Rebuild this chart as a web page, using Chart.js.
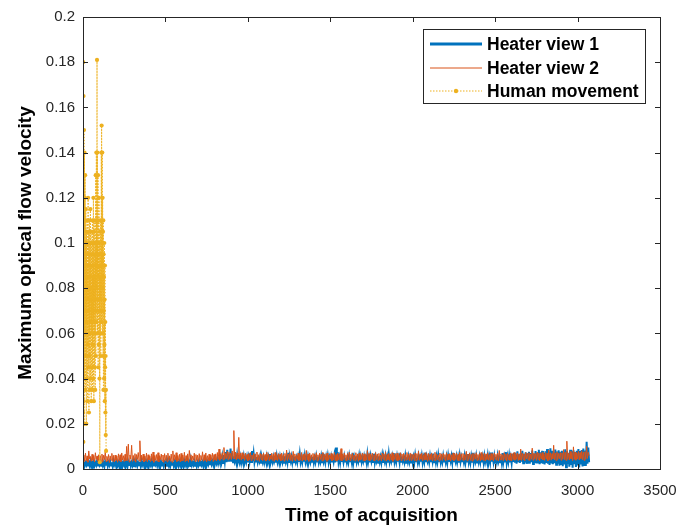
<!DOCTYPE html>
<html>
<head>
<meta charset="utf-8">
<script src="https://cdn.jsdelivr.net/npm/chart.js@4/dist/chart.umd.min.js"></script>
<style>
html,body{margin:0;padding:0;background:#fff;}
#wrap{width:694px;height:527px;position:relative;}
</style>
</head>
<body>
<div id="wrap"><canvas id="c" width="694" height="527"></canvas></div>
<script>
// ---- data ----
const seriesNames = ["Heater view 1", "Heater view 2", "Human movement"];
const heaterStep = 5;   // frames between stored samples of the heater series
const humanStep = 1;    // frames between stored samples of the human series

const heater1 = [
.0020,.0032,.0014,.0028,.0018,.0034,.0012,.0030,.0016,.0035,.0013,.0029,.0019,.0033,.0015,.0027,.0017,.0036,.0012,.0031,
.0018,.0030,.0014,.0034,.0016,.0028,.0011,.0032,.0019,.0035,.0013,.0029,.0017,.0033,.0015,.0030,.0012,.0036,.0018,.0028,
.0014,.0033,.0016,.0029,.0012,.0035,.0019,.0031,.0013,.0028,.0017,.0034,.0015,.0030,.0011,.0032,.0018,.0036,.0014,.0029,
.0016,.0033,.0012,.0030,.0019,.0035,.0014,.0028,.0017,.0032,.0013,.0036,.0018,.0029,.0015,.0034,.0011,.0031,.0016,.0033,
.0013,.0029,.0018,.0035,.0015,.0031,.0012,.0034,.0019,.0028,.0014,.0032,.0017,.0036,.0013,.0030,.0016,.0033,.0012,.0029,
.0018,.0034,.0014,.0030,.0016,.0036,.0013,.0028,.0019,.0033,.0015,.0031,.0012,.0035,.0017,.0029,.0014,.0032,.0018,.0037,
.0015,.0030,.0012,.0034,.0017,.0029,.0014,.0036,.0019,.0031,.0013,.0033,.0016,.0028,.0018,.0035,.0014,.0032,.0012,.0030,
.0017,.0034,.0015,.0037,.0019,.0031,.0013,.0035,.0018,.0038,.0016,.0032,.0020,.0036,.0017,.0039,.0021,.0034,.0019,.0040,
.0022,.0038,.0025,.0043,.0024,.0041,.0028,.0050,.0030,.0056,.0027,.0062,.0033,.0075,.0030,.0085,.0036,.0068,.0034,.0090,
.0032,.0070,.0030,.0055,.0034,.0050,.0029,.0062,.0033,.0048,.0030,.0052,.0028,.0049,.0032,.0056,.0029,.0047,.0031,.0053,
.0030,.0054,.0034,.0070,.0031,.0080,.0035,.0068,.0029,.0050,.0033,.0053,.0030,.0047,.0034,.0056,.0028,.0049,.0032,.0052,
.0029,.0048,.0033,.0055,.0030,.0051,.0027,.0066,.0032,.0046,.0030,.0053,.0034,.0049,.0028,.0057,.0031,.0050,.0029,.0054,
.0033,.0047,.0030,.0052,.0028,.0056,.0032,.0049,.0029,.0072,.0031,.0051,.0034,.0054,.0027,.0048,.0030,.0055,.0033,.0050,
.0029,.0053,.0032,.0066,.0030,.0047,.0028,.0052,.0033,.0060,.0031,.0049,.0029,.0055,.0034,.0051,.0030,.0046,.0032,.0054,
.0028,.0050,.0031,.0057,.0033,.0052,.0029,.0048,.0032,.0056,.0030,.0070,.0034,.0049,.0028,.0053,.0031,.0058,.0029,.0051,
.0033,.0054,.0030,.0049,.0032,.0060,.0029,.0095,.0034,.0075,.0031,.0052,.0028,.0056,.0032,.0050,.0030,.0055,.0033,.0048,
.0029,.0053,.0031,.0058,.0034,.0050,.0030,.0072,.0028,.0052,.0032,.0056,.0030,.0049,.0033,.0059,.0029,.0054,.0031,.0051,
.0034,.0055,.0030,.0048,.0028,.0065,.0032,.0053,.0029,.0057,.0033,.0050,.0031,.0068,.0030,.0054,.0034,.0049,.0028,.0056,
.0032,.0052,.0029,.0059,.0031,.0050,.0033,.0057,.0030,.0053,.0028,.0066,.0032,.0051,.0034,.0055,.0029,.0070,.0031,.0049,
.0030,.0056,.0033,.0051,.0029,.0071,.0032,.0054,.0034,.0048,.0030,.0058,.0028,.0052,.0033,.0055,.0031,.0050,.0029,.0064,
.0032,.0053,.0030,.0061,.0034,.0049,.0029,.0056,.0031,.0052,.0033,.0058,.0028,.0051,.0032,.0072,.0030,.0054,.0034,.0050,
.0029,.0057,.0031,.0052,.0033,.0068,.0030,.0049,.0028,.0055,.0032,.0062,.0034,.0053,.0029,.0050,.0031,.0058,.0033,.0052,
.0030,.0054,.0028,.0059,.0032,.0051,.0034,.0056,.0029,.0071,.0031,.0050,.0033,.0055,.0030,.0052,.0028,.0060,.0032,.0053,
.0034,.0049,.0030,.0057,.0029,.0054,.0033,.0066,.0031,.0051,.0028,.0056,.0032,.0072,.0030,.0052,.0034,.0058,.0029,.0050,
.0031,.0055,.0033,.0068,.0030,.0053,.0028,.0058,.0032,.0051,.0034,.0060,.0029,.0054,.0031,.0073,.0033,.0052,.0030,.0057,
.0028,.0053,.0032,.0059,.0034,.0050,.0030,.0056,.0029,.0070,.0031,.0054,.0033,.0075,.0028,.0055,.0032,.0060,.0030,.0052,
.0026,.0066,.0031,.0072,.0028,.0063,.0024,.0078,.0030,.0065,.0027,.0070,.0032,.0080,.0025,.0067,.0029,.0074,.0023,.0069,
.0028,.0076,.0024,.0070,.0030,.0082,.0022,.0068,.0027,.0079,.0025,.0072,.0029,.0085,.0021,.0074,.0026,.0080,.0024,.0071,
.0020,.0078,.0027,.0088,.0023,.0075,.0018,.0092,.0025,.0080,.0021,.0073,.0026,.0086,.0019,.0077,.0024,.0083,.0015,.0076,
.0022,.0081,.0012,.0074,.0020,.0087,.0008,.0079,.0023,.0072,.0010,.0085,.0018,.0078,.0006,.0083,.0021,.0075,.0009,.0080,
.0016,.0088,.0007,.0079,.0020,.0084,.0011,.0090,.0018,.0082,.0013,.0120,.0024,.0095,.0030
];

const heater2 = [
.0040,.0062,.0033,.0070,.0036,.0058,.0030,.0080,.0045,.0055,.0034,.0065,.0038,.0060,.0031,.0072,.0042,.0057,.0035,.0063,
.0032,.0059,.0037,.0066,.0030,.0061,.0041,.0075,.0033,.0056,.0036,.0064,.0029,.0058,.0039,.0069,.0034,.0060,.0031,.0062,
.0038,.0057,.0030,.0067,.0035,.0063,.0032,.0071,.0040,.0059,.0033,.0065,.0036,.0100,.0038,.0110,.0031,.0062,.0044,.0105,
.0034,.0060,.0037,.0068,.0030,.0064,.0042,.0073,.0035,.0125,.0033,.0061,.0039,.0066,.0031,.0058,.0036,.0070,.0032,.0063,
.0040,.0057,.0033,.0067,.0036,.0075,.0030,.0060,.0038,.0064,.0034,.0072,.0031,.0059,.0041,.0066,.0035,.0062,.0029,.0068,
.0037,.0061,.0032,.0070,.0039,.0058,.0034,.0066,.0030,.0080,.0036,.0063,.0040,.0072,.0033,.0060,.0037,.0065,.0031,.0069,
.0035,.0062,.0038,.0074,.0032,.0059,.0036,.0067,.0030,.0082,.0041,.0063,.0034,.0058,.0039,.0070,.0033,.0064,.0037,.0061,
.0031,.0068,.0036,.0060,.0040,.0076,.0034,.0063,.0038,.0071,.0032,.0059,.0037,.0066,.0035,.0062,.0041,.0070,.0033,.0064,
.0039,.0067,.0036,.0073,.0042,.0088,.0038,.0065,.0044,.0072,.0040,.0095,.0043,.0069,.0046,.0078,.0041,.0074,.0045,.0070,
.0042,.0080,.0047,.0170,.0044,.0075,.0040,.0071,.0046,.0140,.0043,.0069,.0039,.0072,.0045,.0066,.0038,.0070,.0042,.0064,
.0036,.0068,.0040,.0073,.0037,.0062,.0043,.0070,.0035,.0066,.0041,.0075,.0038,.0063,.0034,.0069,.0042,.0065,.0037,.0071,
.0039,.0064,.0035,.0074,.0041,.0067,.0036,.0062,.0043,.0070,.0038,.0066,.0034,.0073,.0040,.0063,.0037,.0068,.0042,.0065,
.0036,.0071,.0039,.0064,.0035,.0069,.0041,.0084,.0037,.0066,.0043,.0072,.0038,.0063,.0034,.0078,.0040,.0067,.0036,.0062,
.0042,.0070,.0037,.0065,.0039,.0073,.0035,.0064,.0041,.0068,.0036,.0082,.0040,.0066,.0034,.0071,.0038,.0063,.0043,.0069,
.0037,.0065,.0040,.0072,.0035,.0063,.0039,.0070,.0042,.0066,.0036,.0074,.0038,.0064,.0041,.0068,.0034,.0071,.0039,.0062,
.0043,.0069,.0036,.0065,.0040,.0073,.0037,.0064,.0035,.0070,.0041,.0067,.0038,.0090,.0036,.0066,.0042,.0071,.0039,.0063,
.0035,.0068,.0040,.0074,.0037,.0065,.0043,.0070,.0038,.0062,.0036,.0072,.0041,.0066,.0034,.0069,.0039,.0064,.0042,.0071,
.0037,.0067,.0035,.0063,.0040,.0082,.0038,.0068,.0036,.0065,.0042,.0070,.0039,.0064,.0035,.0073,.0041,.0066,.0037,.0069,
.0040,.0062,.0036,.0071,.0043,.0067,.0038,.0076,.0035,.0064,.0041,.0069,.0037,.0066,.0039,.0072,.0034,.0065,.0042,.0068,
.0038,.0070,.0036,.0063,.0040,.0072,.0037,.0066,.0043,.0069,.0035,.0064,.0039,.0073,.0041,.0065,.0036,.0070,.0038,.0067,
.0042,.0064,.0037,.0071,.0035,.0068,.0040,.0080,.0038,.0065,.0043,.0070,.0036,.0063,.0039,.0072,.0041,.0066,.0034,.0069,
.0038,.0065,.0042,.0070,.0036,.0064,.0039,.0074,.0037,.0067,.0041,.0063,.0035,.0071,.0040,.0066,.0038,.0069,.0043,.0064,
.0036,.0072,.0039,.0065,.0041,.0068,.0035,.0063,.0040,.0071,.0037,.0066,.0042,.0070,.0038,.0064,.0036,.0073,.0039,.0067,
.0041,.0069,.0037,.0064,.0040,.0078,.0036,.0066,.0042,.0071,.0038,.0065,.0035,.0070,.0039,.0067,.0043,.0072,.0037,.0064,
.0040,.0068,.0036,.0073,.0041,.0065,.0038,.0070,.0035,.0066,.0042,.0072,.0039,.0064,.0037,.0069,.0040,.0067,.0036,.0071,
.0043,.0065,.0038,.0070,.0036,.0082,.0041,.0067,.0039,.0063,.0037,.0072,.0042,.0066,.0035,.0069,.0040,.0064,.0038,.0071,
.0036,.0068,.0041,.0073,.0039,.0066,.0043,.0071,.0037,.0065,.0040,.0088,.0038,.0070,.0042,.0067,.0036,.0074,.0044,.0069,
.0040,.0072,.0037,.0066,.0043,.0092,.0039,.0070,.0045,.0068,.0038,.0075,.0042,.0071,.0036,.0069,.0044,.0073,.0040,.0067,
.0038,.0074,.0043,.0070,.0036,.0084,.0041,.0072,.0039,.0068,.0045,.0105,.0040,.0071,.0037,.0076,.0042,.0069,.0046,.0073,
.0039,.0071,.0044,.0086,.0041,.0074,.0038,.0123,.0043,.0070,.0040,.0078,.0045,.0072,.0037,.0098,.0042,.0075,.0039,.0071,
.0044,.0079,.0040,.0073,.0046,.0081,.0041,.0075,.0038,.0077,.0043,.0100,.0047,.0074,.0058
];

const human = [
.025,.18,.012,.165,.03,.09,.15,.02,.11,.14,.04,.12,.06,.13,.035,.10,.07,.115,.05,.095,
.02,.105,.065,.085,.04,.11,.075,.09,.03,.10,.055,.12,.045,.08,.07,.105,.025,.095,.06,.11,
.05,.085,.035,.10,.075,.115,.04,.09,.065,.105,.03,.08,.06,.10,.045,.095,.07,.11,.035,.085,
.055,.10,.04,.12,.065,.09,.03,.105,.075,.085,.045,.11,.06,.095,.035,.10,.07,.13,.05,.09,
.065,.14,.08,.11,.07,.181,.09,.14,.06,.10,.075,.13,.045,.11,.085,.095,.055,.12,.07,.10,
.04,.09,.003,.105,.06,.085,.075,.11,.05,.095,.08,.14,.065,.152,.07,.10,.09,.14,.06,.12,
.08,.105,.05,.11,.035,.095,.07,.085,.04,.10,.055,.075,.03,.09,.045,.065,.025,.05,.015,.035,
.008
];

const xTicks = [0,500,1000,1500,2000,2500,3000,3500];
const yTicks = [0,0.02,0.04,0.06,0.08,0.1,0.12,0.14,0.16,0.18,0.2];

// ---- build chart ----
const toPoints = (arr, step) => arr.map((v, i) => ({x: i * step, y: v}));
const AX = '#262626';
const FONT = '"Liberation Sans", Arial, Helvetica, sans-serif';

const boxTicks = {
  id: 'boxTicks',
  afterDatasetsDraw(chart) {
    const {ctx, chartArea: a, scales: {x, y}} = chart;
    ctx.save();
    ctx.strokeStyle = AX;
    ctx.lineWidth = 1;
    ctx.beginPath();
    const L = 5;
    xTicks.forEach(t => {
      const px = Math.round(x.getPixelForValue(t)) + 0.5;
      ctx.moveTo(px, a.bottom); ctx.lineTo(px, a.bottom - L);
      ctx.moveTo(px, a.top); ctx.lineTo(px, a.top + L);
    });
    yTicks.forEach(t => {
      const py = Math.round(y.getPixelForValue(t)) + 0.5;
      ctx.moveTo(a.left, py); ctx.lineTo(a.left + L, py);
      ctx.moveTo(a.right, py); ctx.lineTo(a.right - L, py);
    });
    ctx.stroke();
    ctx.strokeRect(Math.round(a.left) + 0.5, Math.round(a.top) + 0.5,
                   Math.round(a.right - a.left), Math.round(a.bottom - a.top));
    ctx.restore();
  },
  afterDraw(chart) {
    // MATLAB-like legend box inside the axes (northeast)
    const {ctx} = chart;
    const bx = 423, by = 29, bw = 222, bh = 74;
    ctx.save();
    ctx.fillStyle = '#fff';
    ctx.fillRect(bx, by, bw, bh);
    ctx.strokeStyle = AX;
    ctx.lineWidth = 1;
    ctx.strokeRect(bx + 0.5, by + 0.5, bw, bh);
    const rows = [44, 68, 91];
    chart.data.datasets.forEach((ds, i) => {
      const yy = rows[i];
      ctx.strokeStyle = ds.borderColor;
      ctx.lineWidth = i === 0 ? 3 : 1;
      ctx.setLineDash(ds.borderDash || []);
      ctx.beginPath();
      ctx.moveTo(430, yy); ctx.lineTo(482, yy);
      ctx.stroke();
      ctx.setLineDash([]);
      if (i === 2) {
        ctx.fillStyle = ds.borderColor;
        ctx.beginPath(); ctx.arc(456, yy, 2.2, 0, Math.PI * 2); ctx.fill();
      }
      ctx.fillStyle = '#000';
      ctx.font = 'bold 17.5px ' + FONT;
      ctx.textBaseline = 'middle';
      ctx.textAlign = 'left';
      ctx.fillText(ds.label, 487, yy + 1);
    });
    ctx.restore();
  }
};

new Chart(document.getElementById('c'), {
  type: 'line',
  data: {
    datasets: [
      { label: seriesNames[0], data: toPoints(heater1, heaterStep), borderColor: '#0072BD',
        borderWidth: 2, pointRadius: 0, order: 3, tension: 0 },
      { label: seriesNames[1], data: toPoints(heater2, heaterStep), borderColor: '#D95319',
        borderWidth: 1, pointRadius: 0, order: 2, tension: 0 },
      { label: seriesNames[2], data: toPoints(human, humanStep), borderColor: '#EDB120',
        backgroundColor: '#EDB120', borderWidth: 1, borderDash: [1.5, 1.5],
        pointRadius: 2.1, pointBorderWidth: 0, pointBackgroundColor: '#EDB120', order: 1, tension: 0 }
    ]
  },
  options: {
    responsive: false,
    animation: false,
    events: [],
    layout: { padding: { left: 0, top: 15, right: 34, bottom: 0 } },
    plugins: { legend: { display: false }, tooltip: { enabled: false } },
    scales: {
      x: {
        type: 'linear', min: 0, max: 3500,
        afterBuildTicks: s => { s.ticks = xTicks.map(v => ({value: v})); },
        afterFit: s => { s.height = 58; },
        grid: { display: false, drawTicks: false },
        border: { display: false },
        ticks: { color: AX, font: { size: 15, family: FONT }, padding: 13, maxRotation: 0,
                 callback: v => String(v) },
        title: { display: true, text: 'Time of acquisition', color: '#000',
                 font: { size: 19, weight: 'bold', family: FONT }, padding: { top: 0, bottom: 0 } }
      },
      y: {
        type: 'linear', min: 0, max: 0.2,
        afterBuildTicks: s => { s.ticks = yTicks.map(v => ({value: v})); },
        afterFit: s => { s.width = 83; },
        grid: { display: false, drawTicks: false },
        border: { display: false },
        ticks: { color: AX, font: { size: 15, family: FONT }, padding: 8,
                 callback: v => String(Number(v.toFixed(2))) },
        title: { display: true, text: 'Maximum optical flow velocity', color: '#000',
                 font: { size: 19, weight: 'bold', family: FONT }, padding: { top: 14, bottom: 0 } }
      }
    }
  },
  plugins: [boxTicks]
});
</script>
</body>
</html>
